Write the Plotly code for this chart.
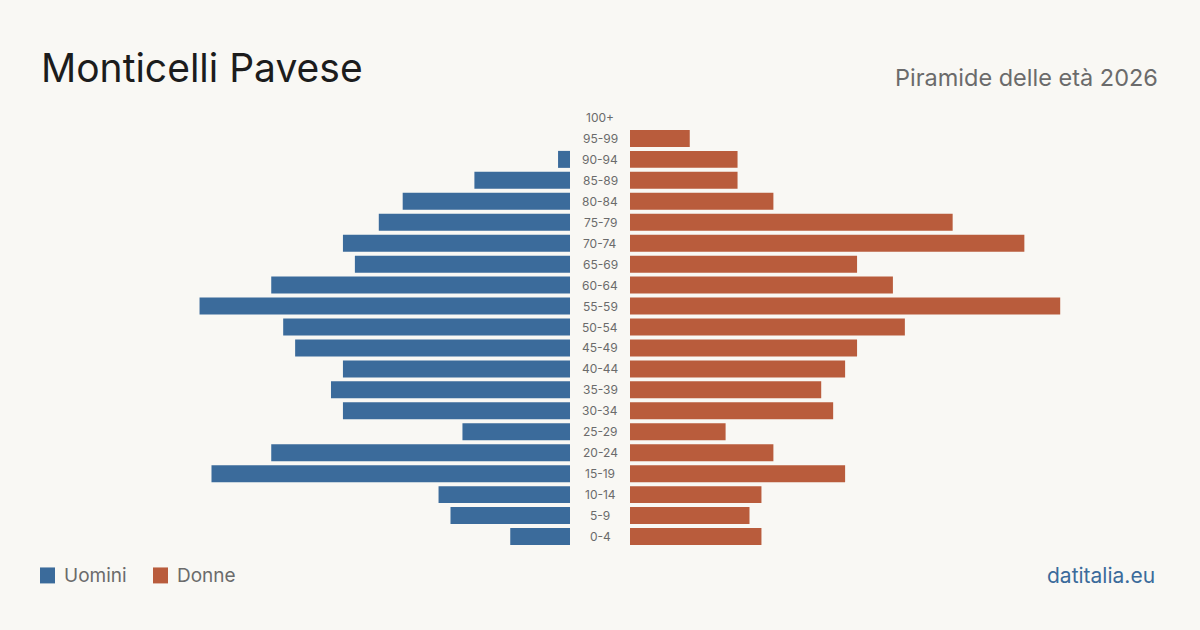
import plotly.graph_objects as go

W, H = 1200, 630
age_groups = ["0-4", "5-9", "10-14", "15-19", "20-24", "25-29", "30-34", "35-39", "40-44",
              "45-49", "50-54", "55-59", "60-64", "65-69", "70-74", "75-79", "80-84",
              "85-89", "90-94", "95-99", "100+"]
males = [5, 10, 11, 30, 25, 9, 19, 20, 19, 23, 24, 31, 25, 18, 19, 16, 14, 8, 1, 0, 0]
females = [11, 10, 11, 18, 12, 8, 17, 16, 18, 19, 23, 36, 22, 19, 33, 27, 12, 9, 9, 5, 0]

BLUE = "#3b6b9b"
ORANGE = "#b95c3c"
BG = "#f9f8f4"
XMAX = 44.35

T, B = 106.5, 547.5  # plot area top/bottom in pixels


def py(p):
    return (B - p) / (B - T)


fig = go.Figure()
fig.add_trace(go.Bar(y=age_groups, x=males, orientation="h", marker_color=BLUE,
                     marker_line_width=0,
                     xaxis="x", yaxis="y", name="Uomini", showlegend=False,
                     hovertemplate="%{y}: %{x}<extra>Uomini</extra>"))
fig.add_trace(go.Bar(y=age_groups, x=females, orientation="h", marker_color=ORANGE,
                     marker_line_width=0,
                     xaxis="x2", yaxis="y", name="Donne", showlegend=False,
                     hovertemplate="%{y}: %{x}<extra>Donne</extra>"))

for ag in age_groups:
    fig.add_annotation(x=600 / W, xref="paper", y=ag, yref="y", text=ag, showarrow=False,
                       xanchor="center", yanchor="middle",
                       font=dict(family="Inter", size=12, color="#6b6b6b"))

fig.add_annotation(x=39 / W, y=py(67), xref="paper", yref="paper", text="Monticelli Pavese",
                   showarrow=False, xanchor="left", yanchor="middle",
                   font=dict(family="Inter", size=39, color="#1c1c1c"))
fig.add_annotation(x=1160 / W, y=py(77), xref="paper", yref="paper", text="Piramide delle età 2026",
                   showarrow=False, xanchor="right", yanchor="middle",
                   font=dict(family="Inter", size=23.5, color="#6b6b6b"))
fig.add_annotation(x=1157 / W, y=py(576), xref="paper", yref="paper", text="datitalia.eu",
                   showarrow=False, xanchor="right", yanchor="middle",
                   font=dict(family="Inter", size=21, color=BLUE))

# legend
for x0, col, label in [(40, BLUE, "Uomini"), (153, ORANGE, "Donne")]:
    fig.add_shape(type="rect", xref="paper", yref="paper",
                  x0=x0 / W, x1=(x0 + 15) / W, y0=py(584), y1=py(568),
                  fillcolor=col, line_width=0)
    fig.add_annotation(x=(x0 + 22) / W, y=py(576), xref="paper", yref="paper", text=label,
                       showarrow=False, xanchor="left", yanchor="middle",
                       font=dict(family="Inter", size=19, color="#6b6b6b"))

fig.update_layout(
    width=W, height=H,
    margin=dict(l=0, r=0, t=T, b=H - B),
    paper_bgcolor=BG, plot_bgcolor=BG,
    bargap=0.19,
    xaxis=dict(domain=[40 / W, 570 / W], range=[XMAX, 0], visible=False, showgrid=False,
               zeroline=False, fixedrange=True),
    xaxis2=dict(domain=[630 / W, 1160 / W], range=[0, XMAX], visible=False, showgrid=False,
                zeroline=False, fixedrange=True),
    yaxis=dict(categoryorder="array", categoryarray=age_groups, range=[-0.5, 20.5],
               visible=False, showgrid=False, zeroline=False, fixedrange=True),
    showlegend=False,
)

fig.write_html("out.html")
